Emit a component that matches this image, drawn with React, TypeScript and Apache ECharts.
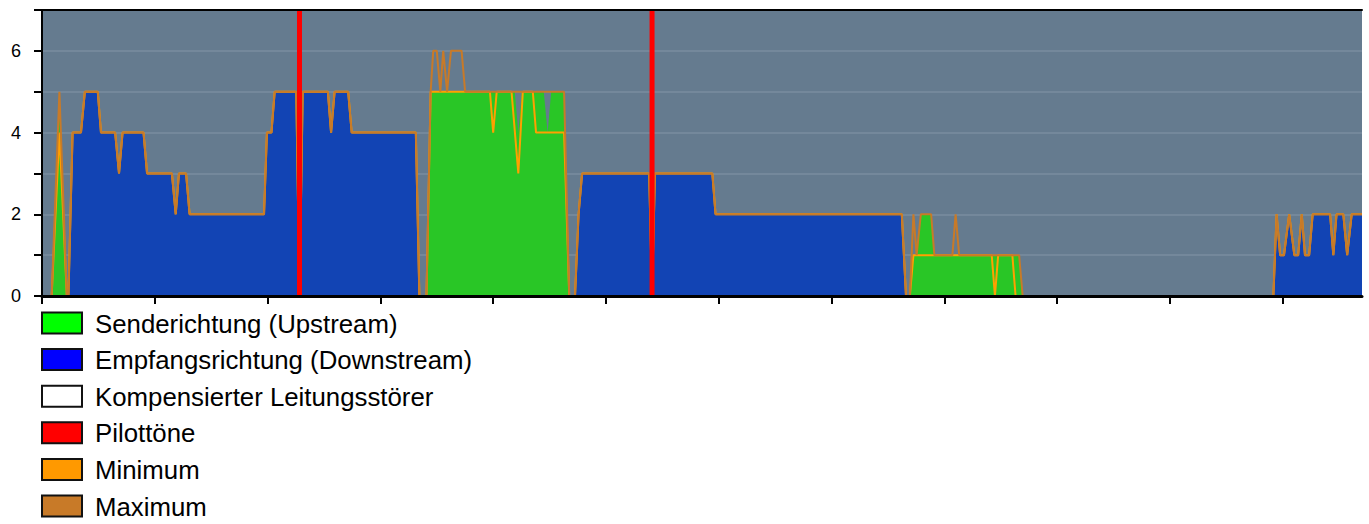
import React, { useEffect, useRef } from "react";
import * as echarts from "echarts";

// Tone index range (VDSL 17a: 4096 tones)
const toneMin = 0;
const toneMax = 4096;
const xTickTones = [0, 350, 700, 1050, 1400, 1750, 2100, 2450, 2800, 3150, 3500, 3850];
const yLabelValues = [0, 2, 4, 6];

// Current bit loading, upstream (green)
const upstreamBits: [number, number][] = [
  [30, 0], [54, 5], [77, 0],
  [1193, 0], [1206, 5], [1467, 5], [1478, 4], [1489, 5], [1557, 5], [1569, 4], [1580, 5], [1620, 5], [1636, 0],
  [2693, 0], [2704, 1], [2714, 1], [2727, 2], [2759, 2], [2769, 1], [3032, 1], [3043, 0],
];

// Current bit loading, downstream (blue)
const downstreamBits: [number, number][] = [
  [82, 0], [95, 4], [121, 4], [133, 5], [173, 5], [183, 4], [227, 4], [239, 3], [250, 4], [315, 4], [326, 3],
  [403, 3], [415, 2], [425, 3], [447, 3], [458, 2], [689, 2], [698, 4], [712, 4], [722, 5], [789, 5], [799, 0],
  [809, 5], [887, 5], [897, 4], [908, 5], [950, 5], [961, 4], [1160, 4], [1171, 0],
  [1654, 0], [1665, 2], [1676, 3], [1884, 3], [1893, 0], [1902, 3], [2080, 3], [2090, 2], [2668, 2], [2681, 0],
  [3821, 0], [3831, 2], [3842, 1], [3854, 1], [3870, 2], [3886, 1], [3898, 1], [3909, 2], [3919, 1], [3932, 1],
  [3943, 2], [3997, 2], [4007, 1], [4017, 2], [4038, 2], [4050, 1], [4064, 2], [4096, 2],
];

// Minimum bits
const minBits: [number, number][] = [
  [0, 0], [30, 0], [54, 4], [77, 0], [82, 0], [95, 4], [121, 4], [133, 5], [173, 5], [183, 4], [227, 4], [239, 3],
  [250, 4], [315, 4], [326, 3], [403, 3], [415, 2], [425, 3], [447, 3], [458, 2], [689, 2], [698, 4], [712, 4],
  [722, 5], [789, 5], [799, 0], [809, 5], [887, 5], [897, 4], [908, 5], [950, 5], [961, 4], [1160, 4], [1171, 0],
  [1193, 0], [1206, 5], [1390, 5], [1400, 4], [1411, 5], [1457, 5], [1478, 3], [1492, 5], [1523, 5], [1533, 4],
  [1620, 4], [1636, 0], [1654, 0], [1665, 2], [1676, 3], [1884, 3], [1893, 0], [1902, 3], [2080, 3], [2090, 2],
  [2668, 2], [2681, 0], [2693, 0], [2704, 1], [2947, 1], [2957, 0], [2967, 1], [3011, 1], [3021, 0],
  [3821, 0], [3831, 2], [3842, 1], [3854, 1], [3870, 2], [3886, 1], [3898, 1], [3909, 2], [3919, 1], [3932, 1],
  [3943, 2], [3997, 2], [4007, 1], [4017, 2], [4038, 2], [4050, 1], [4064, 2], [4096, 2],
];

// Maximum bits
const maxBits: [number, number][] = [
  [0, 0], [30, 0], [54, 5], [77, 0], [82, 0], [95, 4], [121, 4], [133, 5], [173, 5], [183, 4], [227, 4], [239, 3],
  [250, 4], [315, 4], [326, 3], [403, 3], [415, 2], [425, 3], [447, 3], [458, 2], [689, 2], [698, 4], [712, 4],
  [722, 5], [789, 5], [799, 0], [809, 5], [887, 5], [897, 4], [908, 5], [950, 5], [961, 4], [1160, 4], [1171, 0],
  [1193, 0], [1206, 5], [1214, 6], [1225, 6], [1236, 5], [1245, 6], [1257, 5], [1269, 6], [1302, 6], [1313, 5],
  [1620, 5], [1636, 0], [1654, 0], [1665, 2], [1676, 3], [1884, 3], [1893, 0], [1902, 3], [2080, 3], [2090, 2],
  [2668, 2], [2681, 0], [2693, 0], [2704, 2], [2714, 1], [2727, 2], [2759, 2], [2769, 1], [2825, 1], [2835, 2],
  [2846, 1], [3032, 1], [3043, 0], [3821, 0], [3831, 2], [3842, 1], [3854, 1], [3870, 2], [3886, 1], [3898, 1],
  [3909, 2], [3919, 1], [3932, 1], [3943, 2], [3997, 2], [4007, 1], [4017, 2], [4038, 2], [4050, 1], [4064, 2],
  [4096, 2],
];

// Pilot tones
const pilotTones = [799, 1893];
const yMax = 7;

const legendNames = [
  "Senderichtung (Upstream)",
  "Empfangsrichtung (Downstream)",
  "Kompensierter Leitungsstörer",
  "Pilottöne",
  "Minimum",
  "Maximum",
];
const legendColors = ["#00ff00", "#0000ff", "#ffffff", "#ff0000", "#ff9900", "#c87a28"];

const FONT = "'Liberation Sans', Arial, Helvetica, sans-serif";

export default function App() {
  const ref = useRef<HTMLDivElement>(null);

  useEffect(() => {
    if (!ref.current) return;
    const chart = echarts.init(ref.current, null, { renderer: "svg" });

    const legendGraphics: any[] = [];
    legendNames.forEach((name, i) => {
      const top = 312.5 + i * 36.6;
      legendGraphics.push({
        type: "rect",
        shape: { x: 42, y: top, width: 40, height: 21 },
        style: { fill: legendColors[i], stroke: "#111", lineWidth: 2 },
        z: 100,
      });
      legendGraphics.push({
        type: "text",
        x: 95,
        y: top + 11,
        style: {
          text: name,
          fill: "#000",
          fontSize: 25.8,
          fontFamily: FONT,
          verticalAlign: "middle",
          align: "left",
        },
        z: 100,
      });
    });

    chart.setOption({
      animation: false,
      backgroundColor: "#ffffff",
      grid: {
        left: 42,
        top: 10,
        right: 7,
        height: 286,
        show: true,
        backgroundColor: "#657b8f",
        borderWidth: 0,
        containLabel: false,
      },
      xAxis: [
        {
          type: "value",
          min: toneMin,
          max: toneMax,
          interval: 350,
          z: 10,
          axisLine: { show: true, onZero: false, lineStyle: { color: "#000", width: 3 } },
          axisTick: {
            show: true,
            length: 8,
            customValues: xTickTones,
            lineStyle: { color: "#000", width: 2 },
          },
          axisLabel: { show: false },
          splitLine: { show: false },
        },
        {
          type: "value",
          position: "top",
          min: toneMin,
          max: toneMax,
          z: 10,
          axisLine: { show: true, onZero: false, lineStyle: { color: "#000", width: 2 } },
          axisTick: { show: false },
          axisLabel: { show: false },
          splitLine: { show: false },
        },
      ],
      yAxis: {
        type: "value",
        min: 0,
        max: yMax,
        interval: 1,
        axisLine: { show: true, lineStyle: { color: "#000", width: 2 } },
        axisTick: { show: true, length: 8, lineStyle: { color: "#000", width: 2 } },
        axisLabel: {
          customValues: yLabelValues,
          color: "#000",
          fontSize: 18,
          fontFamily: FONT,
          margin: 21,
        },
        splitLine: { show: true, lineStyle: { color: "#7a8c9f", width: 1.5 } },
      },
      series: [
        {
          name: legendNames[0],
          type: "line",
          data: upstreamBits,
          symbol: "none",
          lineStyle: { width: 0 },
          itemStyle: { color: "#29c626" },
          areaStyle: { color: "#29c626", opacity: 1 },
          z: 1,
        },
        {
          name: legendNames[1],
          type: "line",
          data: downstreamBits,
          symbol: "none",
          lineStyle: { width: 0 },
          itemStyle: { color: "#1244b4" },
          areaStyle: { color: "#1244b4", opacity: 1 },
          z: 1,
        },
        {
          name: legendNames[4],
          type: "line",
          data: minBits,
          symbol: "none",
          lineStyle: { width: 2, color: "#ffa000" },
          itemStyle: { color: "#ffa000" },
          z: 3,
        },
        {
          name: legendNames[5],
          type: "line",
          data: maxBits,
          symbol: "none",
          lineStyle: { width: 2, color: "#c87a28" },
          itemStyle: { color: "#c87a28" },
          z: 4,
        },
        {
          name: legendNames[3],
          type: "bar",
          data: pilotTones.map((t) => [t, yMax]),
          barWidth: 5,
          itemStyle: { color: "#ff0000" },
          z: 5,
        },
      ],
      graphic: legendGraphics,
    });

    return () => chart.dispose();
  }, []);

  return (
    <div
      ref={ref}
      style={{ position: "absolute", left: 0, top: 0, width: 1369, height: 524 }}
    />
  );
}
